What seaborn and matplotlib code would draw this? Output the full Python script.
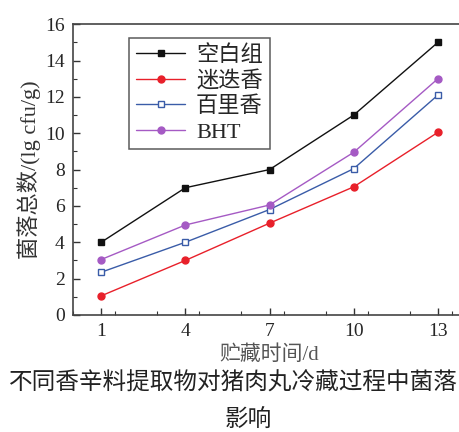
import pandas as pd
import numpy as np
import matplotlib
matplotlib.use("Agg")
import matplotlib.pyplot as plt
import seaborn as sns
from matplotlib.ticker import MultipleLocator

# Data
days = [1, 4, 7, 10, 13]
blank = [4.0, 7.0, 8.0, 11.0, 15.0]
rosemary = [1.05, 3.0, 5.05, 7.05, 10.05]
thyme = [2.35, 4.0, 5.8, 8.05, 12.1]
bht = [3.05, 4.95, 6.05, 8.95, 13.0]
series_names = ["空白组", "迷迭香", "百里香", "BHT"]

df = pd.DataFrame({
    "day": days * 4,
    "value": blank + rosemary + thyme + bht,
    "group": sum([[n] * len(days) for n in series_names], []),
})

sns.set_style("white")
plt.rcParams["font.family"] = ["Liberation Serif", "Noto Sans CJK SC"]
mixed = ["Liberation Serif", "Noto Sans CJK SC"]

fig = plt.figure(figsize=(4.6, 4.32), dpi=100)
ax = fig.add_axes([0.159, 0.271, 0.854, 0.673])

styles = {
    "空白组": dict(color="#111111", marker="s", mfc="#111111"),
    "迷迭香": dict(color="#e8202a", marker="o", mfc="#e8202a"),
    "百里香": dict(color="#3a5ca8", marker="s", mfc="white"),
    "BHT": dict(color="#a55ac4", marker="o", mfc="#a55ac4"),
}
for name in series_names:
    st = styles[name]
    sns.lineplot(data=df[df["group"] == name], x="day", y="value", ax=ax,
                 color=st["color"], marker=st["marker"], markersize=5,
                 markerfacecolor=st["mfc"], markeredgecolor=st["color"],
                 markeredgewidth=1, linewidth=1, label=name)

ax.set_xlim(0, 14)
ax.set_ylim(0, 16)
ax.set_xticks(days)
ax.xaxis.set_minor_locator(MultipleLocator(1.5))
ax.yaxis.set_major_locator(MultipleLocator(2))
ax.yaxis.set_minor_locator(MultipleLocator(1))
ax.tick_params(which="both", direction="in", top=False, right=False,
               bottom=True, left=True, color="#333333")
ax.tick_params(which="major", length=5, width=1, labelsize=14, pad=6)
ax.tick_params(which="minor", length=3, width=0.8)
for s in ax.spines.values():
    s.set_color("#444444")
    s.set_linewidth(1.2)

ax.set_xlabel("贮藏时间/d", fontsize=15, family=mixed, color="#555555", labelpad=4)
ax.set_ylabel("菌落总数/(lg cfu/g)", fontsize=16, family=mixed, color="#333333", labelpad=3)

leg = ax.legend(loc="upper left", bbox_to_anchor=(0.115, 0.99), frameon=True,
                fancybox=False, edgecolor="#333333", prop={"family": mixed, "size": 16},
                handlelength=2.2, labelspacing=0.22, borderpad=0.3, handletextpad=0.5)
leg.get_frame().set_linewidth(1.1)

fig.text(0.02, 0.113, "不同香辛料提取物对猪肉丸冷藏过程中菌落",
         fontsize=17, family=["Noto Sans CJK SC"], ha="left", va="center", color="#222222")
fig.text(0.54, 0.028, "影响", fontsize=17, family=["Noto Sans CJK SC"],
         ha="center", va="center", color="#222222")

fig.savefig("out.png", dpi=100)
